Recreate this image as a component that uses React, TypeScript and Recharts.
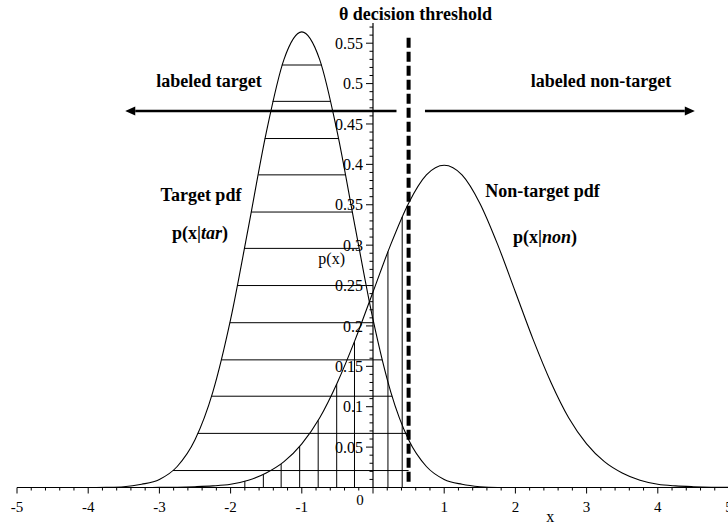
import React from 'react'
import { LineChart, Line, XAxis, YAxis, ReferenceLine, ReferenceDot } from 'recharts'

// x positions the two pdfs are read at
const xValues = [
  -5, -4.75, -4.5, -4.25, -4, -3.75, -3.5, -3.25, -3, -2.75, -2.5, -2.25, -2, -1.75,
  -1.5, -1.25, -1, -0.75, -0.5, -0.25, 0, 0.25, 0.5, 0.75, 1, 1.25, 1.5, 1.75, 2,
  2.25, 2.5, 2.75, 3, 3.25, 3.5, 3.75, 4, 4.25, 4.5, 4.75, 5
]

// p(x|tar)
const targetPdf = [
  0, 0, 0, 0, 0, 0.0003, 0.001, 0.004, 0.01, 0.026, 0.059, 0.118, 0.208, 0.322,
  0.439, 0.53, 0.564, 0.53, 0.439, 0.322, 0.208, 0.118, 0.059, 0.026, 0.01, 0.004,
  0.001, 0, 0, 0, 0, 0, 0, 0, 0, 0, 0, 0, 0, 0, 0
]

// p(x|non)
const nonTargetPdf = [
  0, 0, 0, 0, 0, 0, 0, 0, 0.0001, 0.0004, 0.001, 0.002, 0.004, 0.009, 0.018, 0.032,
  0.054, 0.086, 0.13, 0.183, 0.242, 0.301, 0.352, 0.387, 0.399, 0.387, 0.352, 0.301,
  0.242, 0.183, 0.13, 0.086, 0.054, 0.032, 0.018, 0.009, 0.004, 0.002, 0.001, 0.0004,
  0.0001
]

const threshold = 0.5

// horizontal hatching inside the target pdf (left of threshold)
const hatchLevels = [0.021, 0.067, 0.113, 0.158, 0.204, 0.25, 0.296, 0.341, 0.387, 0.432, 0.478, 0.523]
const hatchLeft = [-2.81, -2.46, -2.27, -2.13, -2.01, -1.9, -1.8, -1.71, -1.61, -1.52, -1.41, -1.28]
const hatchRight = [0.5, 0.5, 0.27, 0.13, 0.01, -0.1, -0.2, -0.29, -0.39, -0.48, -0.59, -0.72]

// vertical hatching inside the non-target pdf (left of threshold)
const stripeX = [-1.8, -1.54, -1.29, -1.03, -0.77, -0.51, -0.26, 0.21, 0.41]
const stripeTop = [0.008, 0.016, 0.029, 0.051, 0.083, 0.128, 0.18, 0.292, 0.335]

const xTicks = Array.from({ length: 51 }, (_, i) => Math.round((-5 + i * 0.2) * 10) / 10)
const yTicks = Array.from({ length: 57 }, (_, i) => (i + 1) / 100)

const annotations = [
  { text: [{ t: 'θ decision threshold' }], x: 0.597, y: 0.579, anchor: 'middle', bold: true, size: 18 },
  { text: [{ t: 'labeled target' }], x: -2.303, y: 0.496, anchor: 'middle', bold: true, size: 18 },
  { text: [{ t: 'labeled non-target' }], x: 3.202, y: 0.496, anchor: 'middle', bold: true, size: 18 },
  { text: [{ t: 'Target pdf' }], x: -2.416, y: 0.355, anchor: 'middle', bold: true, size: 18 },
  { text: [{ t: 'p(x|' }, { t: 'tar', italic: true }, { t: ')' }], x: -2.43, y: 0.307, anchor: 'middle', bold: true, size: 18 },
  { text: [{ t: 'Non-target pdf' }], x: 2.381, y: 0.359, anchor: 'middle', bold: true, size: 18 },
  { text: [{ t: 'p(x|' }, { t: 'non', italic: true }, { t: ')' }], x: 2.416, y: 0.303, anchor: 'middle', bold: true, size: 18 },
  { text: [{ t: 'p(x)' }], x: -0.393, y: 0.2767, anchor: 'end', bold: false, size: 16 },
  { text: [{ t: 'x' }], x: 2.49, y: -0.043, anchor: 'middle', bold: false, size: 16 }
]

// arrows: [from, tip]
const arrows = [
  { from: 0.33, to: -3.48, y: 0.466 },
  { from: 0.73, to: 4.52, y: 0.466 }
]

const rows = xValues.map((x, i) => ({ x, target: targetPdf[i], nonTarget: nonTargetPdf[i] }))

const FONT = "'Liberation Serif', 'Times New Roman', serif"

function XTick({ x, y, payload }: any) {
  const v = payload.value
  const major = Math.abs(v - Math.round(v)) < 1e-6
  return (
    <g>
      <line x1={x} y1={y} x2={x} y2={y + (major ? 6 : 3)} stroke="#000" strokeWidth={1} />
      {major && v !== 0 && (
        <text x={x} y={y + 24} textAnchor="middle" fontSize={15} fontFamily={FONT} fill="#000">
          {String(v)}
        </text>
      )}
      {major && v === 0 && (
        <text x={x - 13} y={y + 17} textAnchor="middle" fontSize={15} fontFamily={FONT} fill="#000">
          0
        </text>
      )}
    </g>
  )
}

function YTick({ x, y, payload }: any) {
  const v = payload.value
  const major = Math.round(v * 100) % 5 === 0
  return (
    <g>
      <line x1={x - (major ? 7 : 3.5)} y1={y} x2={x} y2={y} stroke="#000" strokeWidth={1} />
      {major && (
        <text x={x - 10} y={y} dy="0.35em" textAnchor="end" fontSize={16} fontFamily={FONT} fill="#000">
          {String(Math.round(v * 100) / 100)}
        </text>
      )}
    </g>
  )
}

function Arrow(props: any) {
  const { x1, y1, x2, y2 } = props
  const dir = x2 > x1 ? 1 : -1
  const head = 10
  return (
    <g>
      <line x1={x1} y1={y1} x2={x2 - dir * head} y2={y2} stroke="#000" strokeWidth={2.4} />
      <polygon
        points={`${x2},${y2} ${x2 - dir * head},${y2 - 4.5} ${x2 - dir * head},${y2 + 4.5}`}
        fill="#000"
      />
    </g>
  )
}

function Annotation({ viewBox, parts, anchor, bold, size }: any) {
  return (
    <text
      x={viewBox.x}
      y={viewBox.y}
      textAnchor={anchor}
      fontSize={size}
      fontWeight={bold ? 'bold' : 'normal'}
      fontFamily={FONT}
      fill="#000"
    >
      {parts.map((p: any, i: number) => (
        <tspan key={i} fontStyle={p.italic ? 'italic' : 'normal'}>
          {p.t}
        </tspan>
      ))}
    </text>
  )
}

export default function App() {
  return (
    <div style={{ position: 'absolute', left: 0, top: 0, width: 728, height: 525, overflow: 'hidden', background: '#fff' }}>
      <div style={{ position: 'absolute', left: 0, top: 0 }}>
        <LineChart width={730} height={525} data={rows} margin={{ top: 23, right: 1, bottom: 7.5, left: 17 }}>
          <XAxis
            dataKey="x"
            type="number"
            domain={[-5, 5]}
            ticks={xTicks}
            interval={0}
            height={30}
            tickLine={false}
            tickSize={0}
            tickMargin={0}
            tick={<XTick />}
            axisLine={{ stroke: '#000', strokeWidth: 1.2 }}
          />
          <YAxis hide type="number" domain={[0, 0.575]} allowDataOverflow />
          <Line dataKey="target" type="monotone" stroke="#000" strokeWidth={1.1} dot={false} isAnimationActive={false} />
          <Line dataKey="nonTarget" type="monotone" stroke="#000" strokeWidth={1.1} dot={false} isAnimationActive={false} />
          {hatchLevels.map((v, i) => (
            <ReferenceLine
              key={'h' + i}
              segment={[{ x: hatchLeft[i], y: v }, { x: hatchRight[i], y: v }]}
              stroke="#000"
              strokeWidth={1}
            />
          ))}
          {stripeX.map((x, i) => (
            <ReferenceLine
              key={'v' + i}
              segment={[{ x, y: 0 }, { x, y: stripeTop[i] }]}
              stroke="#000"
              strokeWidth={1}
            />
          ))}
          <ReferenceLine
            segment={[{ x: threshold, y: 0.007 }, { x: threshold, y: 0.559 }]}
            stroke="#000"
            strokeWidth={4}
            strokeDasharray="10 4"
          />
          {arrows.map((a, i) => (
            <ReferenceLine
              key={'a' + i}
              segment={[{ x: a.from, y: a.y }, { x: a.to, y: a.y }]}
              shape={<Arrow />}
            />
          ))}
          {annotations.map((a, i) => (
            <ReferenceDot
              key={'t' + i}
              x={a.x}
              y={a.y}
              r={0}
              fill="none"
              stroke="none"
              ifOverflow="visible"
              label={<Annotation parts={a.text} anchor={a.anchor} bold={a.bold} size={a.size} />}
            />
          ))}
        </LineChart>
      </div>
      {/* y axis sits on x = 0, so it is drawn by a second chart laid over the first */}
      <div style={{ position: 'absolute', left: 0, top: 0 }}>
        <LineChart width={728} height={525} data={rows} margin={{ top: 23, right: 0, bottom: 37.5, left: 0 }}>
          <XAxis hide dataKey="x" type="number" domain={[-5, 5]} />
          <YAxis
            type="number"
            domain={[0, 0.575]}
            ticks={yTicks}
            interval={0}
            width={373}
            tickLine={false}
            tickSize={0}
            tickMargin={0}
            tick={YTick}
            axisLine={{ stroke: '#000', strokeWidth: 1.2 }}
          />
          <Line dataKey="nonTarget" stroke="none" dot={false} isAnimationActive={false} />
        </LineChart>
      </div>
    </div>
  )
}
